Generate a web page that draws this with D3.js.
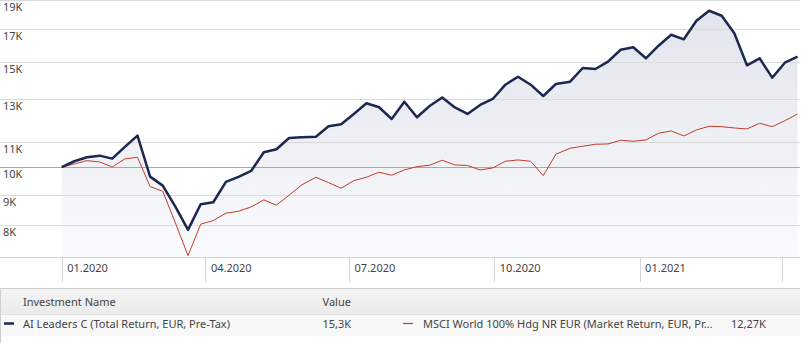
<!DOCTYPE html>
<html>
<head>
<meta charset="utf-8">
<script src="https://cdn.jsdelivr.net/npm/d3@7"></script>
<style>
  html, body { margin: 0; padding: 0; background: #fff; }
  svg { display: block; }
  text { font-family: "Noto Sans", "Liberation Sans", sans-serif; }
</style>
</head>
<body>
<svg id="chart" width="811" height="343"></svg>
<script>
// ---- data ----
const dates = ["2020-01-01","2020-01-09","2020-01-17","2020-01-25","2020-02-02","2020-02-10","2020-02-18","2020-02-26",
  "2020-03-05","2020-03-13","2020-03-21","2020-03-29","2020-04-06","2020-04-14","2020-04-22","2020-04-30",
  "2020-05-08","2020-05-16","2020-05-24","2020-06-01","2020-06-10","2020-06-18","2020-06-26","2020-07-04",
  "2020-07-12","2020-07-20","2020-07-28","2020-08-05","2020-08-13","2020-08-21","2020-08-29","2020-09-06",
  "2020-09-14","2020-09-22","2020-09-30","2020-10-08","2020-10-16","2020-10-24","2020-11-01","2020-11-09",
  "2020-11-18","2020-11-26","2020-12-04","2020-12-12","2020-12-20","2020-12-28","2021-01-05","2021-01-13",
  "2021-01-21","2021-01-29","2021-02-06","2021-02-14","2021-02-22","2021-03-02","2021-03-10","2021-03-18",
  "2021-03-26","2021-04-03","2021-04-11"];
const aiLeaders = [10000,10233,10392,10456,10336,10812,11292,9645,
  9317,8594,7858,8674,8741,9450,9634,9859,
  10594,10717,11192,11222,11248,11707,11798,12274,
  12790,12595,12041,12869,12119,12658,13079,12585,
  12274,12706,13003,13738,14167,13738,13154,13775,
  13897,14649,14593,15008,15716,15863,15206,15960,
  16650,16358,17569,18259,17912,16740,14802,15206,
  14113,14951,15300];
const msciWorld = [10000,10128,10257,10206,10012,10324,10392,9281,
  9118,8073,7118,8032,8144,8379,8443,8584,
  8819,8644,8979,9342,9623,9425,9224,9498,
  9623,9810,9697,9897,10023,10077,10273,10089,
  10069,9897,9973,10233,10285,10233,9682,10513,
  10758,10841,10925,10937,11094,11051,11107,11397,
  11498,11279,11542,11707,11690,11631,11587,11843,
  11690,11962,12270];
const yTicks = [8000, 9000, 10000, 11000, 13000, 15000, 17000, 19000];
const xTickDates = ["2020-01-01","2020-04-01","2020-07-01","2020-10-01","2021-01-01","2021-04-01"];
const xTickLabels = ["01.2020","04.2020","07.2020","10.2020","01.2021",""];
const seriesNames = ["AI Leaders C (Total Return, EUR, Pre-Tax)", "MSCI World 100% Hdg NR EUR (Market Return, EUR, Pr..."];
const seriesLast = ["15,3K", "12,27K"];
const seriesColors = ["#1c2850", "#c43b2d"];

// ---- layout ----
const svg = d3.select("#chart");
const W = 811;
const plotRight = 800;
const parse = d3.utcParse("%Y-%m-%d");

const x = d3.scaleUtc()
  .domain([parse("2020-01-01"), parse("2021-04-01")])
  .range([61.7, 781.7]);
const y = d3.scaleLog()
  .domain([7080, 19000])
  .range([257, 0.4]);

const ptsA = dates.map((d, i) => ({ d: parse(d), v: aiLeaders[i] }));
const ptsM = dates.map((d, i) => ({ d: parse(d), v: msciWorld[i] }));

// gradient
const defs = svg.append("defs");
const grad = defs.append("linearGradient")
  .attr("id", "areaGrad")
  .attr("gradientUnits", "userSpaceOnUse")
  .attr("x1", 0).attr("y1", 0).attr("x2", 0).attr("y2", 257);
grad.append("stop").attr("offset", "0%").attr("stop-color", "#e1e4ec");
grad.append("stop").attr("offset", "60%").attr("stop-color", "#eff1f5");
grad.append("stop").attr("offset", "100%").attr("stop-color", "#fafbfc");

// area under AI Leaders
svg.append("path")
  .datum(ptsA)
  .attr("fill", "url(#areaGrad)")
  .attr("d", d3.area().x(p => x(p.d)).y0(257).y1(p => y(p.v)));

// gridlines
const crisp = v => Math.round(v) + 0.5;
svg.append("g").selectAll("line")
  .data(yTicks)
  .join("line")
  .attr("x1", 0).attr("x2", plotRight)
  .attr("y1", d => crisp(y(d))).attr("y2", d => crisp(y(d)))
  .attr("stroke", d => d === 10000 ? "#a9a9a9" : "#dadada")
  .attr("stroke-width", 1);

// y labels
svg.append("g").selectAll("text")
  .data(yTicks)
  .join("text")
  .attr("x", 3)
  .attr("y", d => y(d) + 11)
  .attr("font-size", 11)
  .attr("fill", "#444")
  .text(d => (d / 1000) + "K");

// lines
svg.append("path")
  .datum(ptsM)
  .attr("fill", "none")
  .attr("stroke", seriesColors[1])
  .attr("stroke-width", 1)
  .attr("stroke-linejoin", "round")
  .attr("d", d3.line().x(p => x(p.d)).y(p => y(p.v)));
svg.append("path")
  .datum(ptsA)
  .attr("fill", "none")
  .attr("stroke", seriesColors[0])
  .attr("stroke-width", 2.5)
  .attr("stroke-linejoin", "round")
  .attr("d", d3.line().x(p => x(p.d)).y(p => y(p.v)));

// x axis band
const axisG = svg.append("g");
axisG.append("line").attr("x1", 0).attr("x2", plotRight).attr("y1", 257.5).attr("y2", 257.5)
  .attr("stroke", "#d4d4d4");
axisG.selectAll("line.tick")
  .data(xTickDates)
  .join("line")
  .attr("class", "tick")
  .attr("x1", d => crisp(x(parse(d)))).attr("x2", d => crisp(x(parse(d))))
  .attr("y1", 257).attr("y2", 282)
  .attr("stroke", "#d4d4d4");
axisG.selectAll("text")
  .data(xTickDates)
  .join("text")
  .attr("x", d => x(parse(d)) + 5.5)
  .attr("y", 272)
  .attr("font-size", 11)
  .attr("fill", "#444")
  .text((d, i) => xTickLabels[i]);

// table
const tab = svg.append("g");
const hg = defs.append("linearGradient").attr("id", "hdrGrad")
  .attr("x1", 0).attr("y1", 0).attr("x2", 0).attr("y2", 1);
hg.append("stop").attr("offset", "0%").attr("stop-color", "#f4f4f4");
hg.append("stop").attr("offset", "100%").attr("stop-color", "#ebebeb");
tab.append("rect").attr("x", 0).attr("y", 288).attr("width", plotRight).attr("height", 27)
  .attr("fill", "url(#hdrGrad)");
tab.append("rect").attr("x", 0).attr("y", 315).attr("width", plotRight).attr("height", 21)
  .attr("fill", "#f8f8f8");
tab.append("line").attr("x1", 0).attr("x2", plotRight).attr("y1", 288.5).attr("y2", 288.5)
  .attr("stroke", "#cfcfcf");
tab.append("line").attr("x1", 0).attr("x2", plotRight).attr("y1", 314.5).attr("y2", 314.5)
  .attr("stroke", "#e2e2e2");
tab.append("line").attr("x1", 0.5).attr("x2", 0.5).attr("y1", 288).attr("y2", 343)
  .attr("stroke", "#cfcfcf");
tab.append("text").attr("x", 23).attr("y", 306).attr("font-size", 11).attr("fill", "#444")
  .text("Investment Name");
tab.append("text").attr("x", 322.5).attr("y", 306).attr("font-size", 11).attr("fill", "#444")
  .text("Value");

const rowX = [{ dash: 4, name: 23, val: 322.5 }, { dash: 403, name: 423, val: 731 }];
seriesNames.forEach((n, i) => {
  tab.append("line").attr("x1", rowX[i].dash).attr("x2", rowX[i].dash + 10)
    .attr("y1", 323.5).attr("y2", 323.5)
    .attr("stroke", seriesColors[i]).attr("stroke-width", i === 0 ? 2.5 : 1.2);
  tab.append("text").attr("x", rowX[i].name).attr("y", 327.5).attr("font-size", 11).attr("fill", "#444")
    .text(n);
  tab.append("text").attr("x", rowX[i].val).attr("y", 327.5).attr("font-size", 11).attr("fill", "#444")
    .text(seriesLast[i]);
});
</script>
</body>
</html>
